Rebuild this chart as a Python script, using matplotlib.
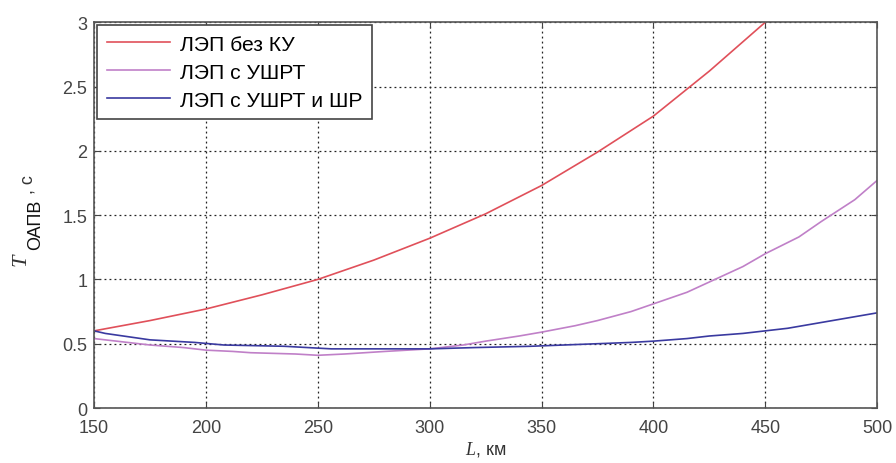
import matplotlib

matplotlib.use("Agg")

import matplotlib.pyplot as plt

plt.rcParams["font.family"] = ["Liberation Sans", "DejaVu Sans"]
plt.rcParams["mathtext.fontset"] = "custom"
plt.rcParams["mathtext.it"] = "Liberation Serif:italic"
plt.rcParams["mathtext.rm"] = "Liberation Sans"

# ЛЭП без КУ
L_red = [150, 175, 200, 225, 250, 275, 300, 325, 350, 375, 400, 425, 450]
T_red = [0.60, 0.68, 0.77, 0.88, 1.00, 1.15, 1.32, 1.51, 1.73, 1.99, 2.27, 2.62, 3.00]

# ЛЭП с УШРТ
L_ushrt = [150, 160, 175, 190, 200, 212, 220, 240, 250, 262, 280, 300, 315, 325,
           340, 350, 365, 375, 390, 400, 415, 425, 440, 450, 465, 475, 490, 500]
T_ushrt = [0.54, 0.52, 0.49, 0.47, 0.45, 0.44, 0.43, 0.42, 0.41, 0.42, 0.44, 0.46,
           0.49, 0.52, 0.56, 0.59, 0.64, 0.68, 0.75, 0.81, 0.90, 0.98, 1.10, 1.20,
           1.33, 1.45, 1.62, 1.77]

# ЛЭП с УШРТ и ШР
L_sr = [150, 155, 163, 175, 195, 208, 235, 256, 300, 320, 345, 360, 390, 400,
        415, 425, 440, 450, 460, 470, 480, 490, 500]
T_sr = [0.60, 0.58, 0.56, 0.53, 0.51, 0.49, 0.48, 0.46, 0.46, 0.47, 0.48, 0.49,
        0.51, 0.52, 0.54, 0.56, 0.58, 0.60, 0.62, 0.65, 0.68, 0.71, 0.74]

x_ticks = [150, 200, 250, 300, 350, 400, 450, 500]
y_ticks = [0, 0.5, 1, 1.5, 2, 2.5, 3]
y_tick_labels = ["0", "0.5", "1", "1.5", "2", "2.5", "3"]

fig = plt.figure(figsize=(8.96, 4.64), dpi=100)
ax = fig.add_axes([0.105, 0.1185, 0.874, 0.8315])

ax.plot(L_red, T_red, color="#e0505a", linewidth=1.2, label="ЛЭП без КУ")
ax.plot(L_ushrt, T_ushrt, color="#c080c8", linewidth=1.2, label="ЛЭП с УШРТ")
ax.plot(L_sr, T_sr, color="#3a3aa0", linewidth=1.2, label="ЛЭП с УШРТ и ШР")

ax.set_xlim(150, 500)
ax.set_ylim(0, 3)
ax.set_xticks(x_ticks)
ax.set_yticks(y_ticks)
ax.set_yticklabels(y_tick_labels)
ax.tick_params(direction="in", top=True, right=True, labelsize=13,
               colors="#444444", length=4)
ax.tick_params(axis="x", pad=8)
ax.tick_params(axis="y", pad=5)
ax.grid(True, color="#222222", linestyle=(0, (1.5, 2.5)), linewidth=0.9)
for spine in ax.spines.values():
    spine.set_color("#555555")
    spine.set_linewidth(1.2)

# подпись оси X
ax.set_xlabel(r"$\it{L}$, км", fontsize=13, labelpad=2, color="#333333")

# подпись оси Y собрана из частей: T, индекс ОАПВ и ", с"
fig.text(0.024, 0.440, "T", fontsize=16, family="Liberation Serif",
         style="italic", rotation=90, ha="center", va="center", color="#333333")
fig.text(0.040, 0.515, "ОАПВ", fontsize=13, rotation=90,
         ha="center", va="center", color="#111111")
fig.text(0.031, 0.603, ", с", fontsize=13, rotation=90,
         ha="center", va="center", color="#333333")

leg = ax.legend(loc="upper left", fontsize=15.2, handlelength=3.0,
                handletextpad=0.45, borderaxespad=0.15, borderpad=0.45,
                fancybox=False, framealpha=1, edgecolor="#444444",
                labelspacing=0.42)
leg.get_frame().set_linewidth(1.2)

plt.savefig("out.png", dpi=100)
plt.close(fig)
